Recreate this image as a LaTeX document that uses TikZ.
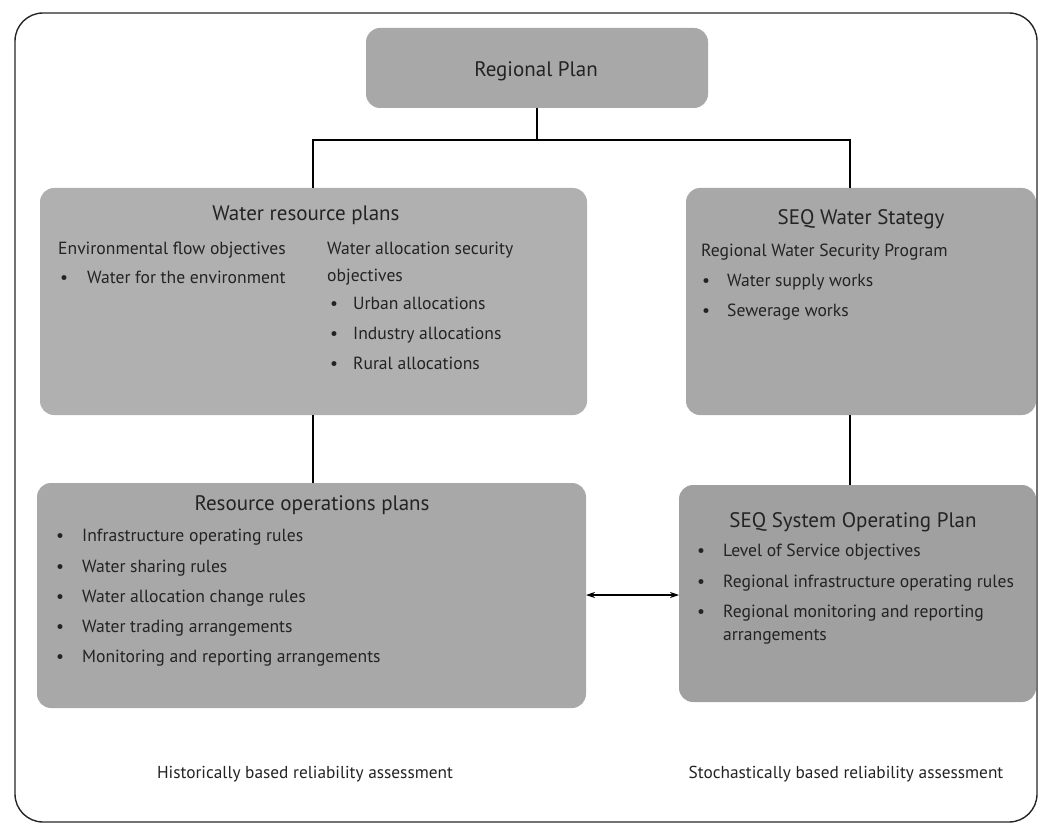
\documentclass[tikz,border=0pt]{standalone}
\usepackage{fontspec}
\setmainfont{PT Sans}
\usetikzlibrary{arrows.meta}
\definecolor{boxA}{RGB}{168,168,168}
\definecolor{boxB}{RGB}{176,176,176}
\definecolor{boxC}{RGB}{160,160,160}
\definecolor{ink}{RGB}{35,35,35}
\tikzset{
  panel/.style={draw=none, rounded corners=14pt, inner sep=0pt, outer sep=0pt},
  ttl/.style={font=\fontsize{21}{25}\selectfont, text=ink, inner sep=0pt, anchor=base},
  itm/.style={font=\fontsize{17.6}{21}\selectfont, text=ink, inner sep=0pt, anchor=base west},
  blt/.style={font=\fontsize{17.6}{21}\selectfont, text=ink, inner sep=0pt, anchor=base west},
  lbl/.style={font=\fontsize{17.3}{20}\selectfont, text=ink, inner sep=0pt, anchor=base},
  conn/.style={draw=black, line width=1.2pt},
  dbl/.style={draw=black, line width=1.1pt, {Stealth[length=9pt,width=6pt]}-{Stealth[length=9pt,width=6pt]}}
}
\begin{document}
\begin{tikzpicture}[x=1pt, y=-1pt]
\useasboundingbox (0,0) rectangle (1038,829);
% outer frame
\draw[line width=1.4pt, draw=black!85, rounded corners=28pt] (15,13) rectangle (1037,822);

% boxes
\node[panel, fill=boxA, minimum width=342pt, minimum height=80pt] (rp) at (537,68) {};
\node[panel, fill=boxB, minimum width=547pt, minimum height=227pt] (wrp) at (313.5,301.5) {};
\node[panel, fill=boxA, minimum width=350pt, minimum height=227pt] (seqws) at (861,301.5) {};
\node[panel, fill=boxA, minimum width=549pt, minimum height=225pt] (rop) at (311.5,595.5) {};
\node[panel, fill=boxC, minimum width=357pt, minimum height=217pt] (sop) at (857.5,593.5) {};

% connectors
\coordinate (j) at (537,140);
\coordinate (lx) at (313,140);
\coordinate (rx) at (850,140);
\draw[conn] (rp.south) -- (j);
\draw[conn] (lx |- wrp.north) -- (lx) -- (rx) -- (rx |- seqws.north);
\draw[conn] (wrp.south -| lx) -- (rop.north -| lx);
\draw[conn] (seqws.south -| rx) -- (sop.north -| rx);
\draw[dbl] (rop.east |- 0,595) -- (sop.west |- 0,595);

% texts
\node[ttl] (t0) at (536,77) {Regional Plan};

\node[ttl] (t1) at (306,220) {Water resource plans};
\node[itm] (a1) at (58,254) {Environmental flow objectives};
\node[blt] (b1) at (60,283) {•};
\node[itm] (a2) at (87,283) {Water for the environment};
\node[itm] (a3) at (327,254) {Water allocation security};
\node[itm] (a4) at (327,281) {objectives};
\node[blt] (b2) at (330,309) {•};
\node[itm] (a5) at (353,309) {Urban allocations};
\node[blt] (b3) at (330,339) {•};
\node[itm] (a6) at (353,339) {Industry allocations};
\node[blt] (b4) at (330,369) {•};
\node[itm] (a7) at (353,369) {Rural allocations};

\node[ttl] (t2) at (861,224) {SEQ Water Stategy};
\node[itm] (c1) at (701,256) {Regional Water Security Program};
\node[blt] (b5) at (702,286) {•};
\node[itm] (c2) at (727,286) {Water supply works};
\node[blt] (b6) at (702,316) {•};
\node[itm] (c3) at (727,316) {Sewerage works};

\node[ttl] (t3) at (312,510) {Resource operations plans};
\node[blt] (b7) at (56,541) {•};
\node[itm] (d1) at (82,541) {Infrastructure operating rules};
\node[blt] (b8) at (56,572) {•};
\node[itm] (d2) at (82,572) {Water sharing rules};
\node[blt] (b9) at (56,602) {•};
\node[itm] (d3) at (82,602) {Water allocation change rules};
\node[blt] (b10) at (56,632) {•};
\node[itm] (d4) at (82,632) {Water trading arrangements};
\node[blt] (b11) at (56,662) {•};
\node[itm] (d5) at (82,662) {Monitoring and reporting arrangements};

\node[ttl] (t4) at (853,527) {SEQ System Operating Plan};
\node[blt] (b12) at (697,556) {•};
\node[itm] (e1) at (723,556) {Level of Service objectives};
\node[blt] (b13) at (697,587) {•};
\node[itm] (e2) at (723,587) {Regional infrastructure operating rules};
\node[blt] (b14) at (697,617) {•};
\node[itm] (e3) at (723,617) {Regional monitoring and reporting};
\node[itm] (e4) at (723,640) {arrangements};

\node[lbl] (h) at (305,778) {Historically based reliability assessment};
\node[lbl] (s) at (846,778) {Stochastically based reliability assessment};
\end{tikzpicture}
\end{document}
